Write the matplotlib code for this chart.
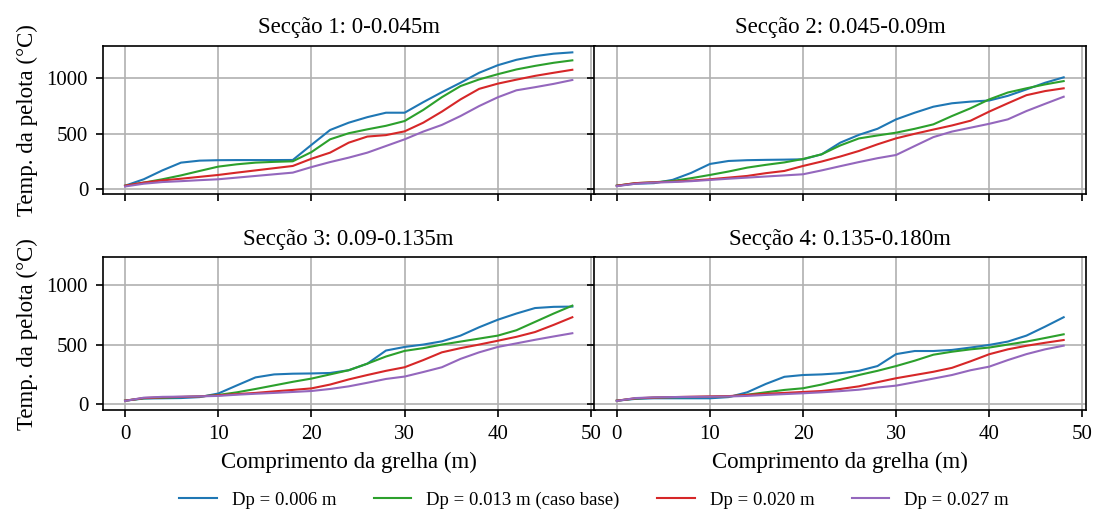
import matplotlib
matplotlib.use("Agg")
import matplotlib.pyplot as plt
import numpy as np

plt.rcParams['font.family'] = ['Liberation Serif', 'DejaVu Serif']
plt.rcParams['font.size'] = 10

# posições ao longo da grelha (m)
x = np.arange(0, 50, 2)

titles = ["Secção 1: 0-0.045m", "Secção 2: 0.045-0.09m",
          "Secção 3: 0.09-0.135m", "Secção 4: 0.135-0.180m"]
labels = ["Dp = 0.006 m", "Dp = 0.013 m (caso base)", "Dp = 0.020 m", "Dp = 0.027 m"]
colors = ["tab:blue", "tab:green", "tab:red", "tab:purple"]

# secção 1
s1_006 = [32, 90, 170, 240, 258, 262, 263, 263, 263, 264, 400, 534, 600, 650, 690, 690,
          785, 875, 960, 1050, 1118, 1167, 1200, 1222, 1234]
s1_013 = [32, 60, 90, 125, 165, 204, 225, 240, 247, 252, 335, 450, 505, 540, 572, 615,
          715, 830, 930, 990, 1037, 1080, 1112, 1140, 1162]
s1_020 = [32, 60, 80, 95, 112, 129, 150, 170, 190, 210, 275, 330, 420, 475, 488, 522,
          600, 700, 810, 905, 952, 988, 1022, 1050, 1077]
s1_027 = [25, 50, 65, 73, 82, 90, 105, 120, 135, 150, 200, 245, 285, 330, 390, 450,
          520, 580, 660, 750, 829, 892, 920, 950, 985]

# secção 2
s2_006 = [32, 50, 55, 85, 148, 228, 255, 262, 265, 267, 270, 315, 420, 490, 545, 630,
          690, 744, 775, 790, 800, 842, 900, 960, 1009]
s2_013 = [32, 55, 63, 75, 100, 129, 160, 195, 220, 242, 273, 315, 395, 458, 485, 510,
          545, 585, 660, 730, 810, 872, 910, 945, 975]
s2_020 = [32, 55, 63, 68, 78, 90, 105, 120, 145, 165, 210, 250, 295, 345, 405, 459,
          500, 538, 575, 618, 700, 775, 848, 885, 910]
s2_027 = [28, 50, 60, 65, 73, 84, 95, 105, 115, 125, 135, 170, 208, 245, 280, 309,
          390, 470, 520, 555, 590, 630, 705, 770, 834]

# secção 3
s3_006 = [30, 48, 50, 52, 60, 90, 158, 225, 250, 256, 258, 262, 285, 340, 450, 480,
          500, 527, 575, 645, 708, 760, 806, 816, 818]
s3_013 = [30, 50, 55, 60, 65, 78, 100, 128, 158, 188, 215, 250, 285, 340, 400, 447,
          470, 500, 525, 550, 575, 620, 690, 760, 826]
s3_020 = [30, 52, 58, 62, 66, 75, 85, 95, 108, 120, 133, 165, 208, 245, 280, 310,
          370, 435, 470, 500, 532, 565, 605, 665, 729]
s3_027 = [28, 55, 62, 64, 66, 70, 80, 88, 95, 103, 111, 128, 150, 180, 212, 232,
          270, 310, 380, 435, 480, 510, 540, 568, 595]

# secção 4
s4_006 = [30, 45, 50, 50, 50, 50, 60, 100, 170, 230, 245, 250, 260, 280, 320, 420,
          446, 446, 455, 475, 497, 525, 575, 650, 729]
s4_013 = [30, 48, 55, 58, 60, 62, 65, 80, 100, 120, 134, 165, 205, 245, 280, 320,
          365, 415, 440, 460, 475, 500, 525, 555, 586]
s4_020 = [30, 50, 56, 60, 63, 66, 68, 78, 88, 95, 103, 111, 128, 150, 185, 218,
          245, 272, 305, 360, 419, 460, 490, 515, 538]
s4_027 = [28, 52, 58, 60, 62, 63, 65, 70, 78, 85, 92, 100, 110, 122, 140, 156,
          185, 215, 245, 285, 315, 370, 420, 460, 491]

seccoes = [[s1_006, s1_013, s1_020, s1_027],
           [s2_006, s2_013, s2_020, s2_027],
           [s3_006, s3_013, s3_020, s3_027],
           [s4_006, s4_013, s4_020, s4_027]]

fig = plt.figure(figsize=(7.3, 3.4), dpi=150)
pos = [[0.0938, 0.6202, 0.4493, 0.2902],
       [0.5429, 0.6202, 0.4489, 0.2902],
       [0.0938, 0.1961, 0.4493, 0.2994],
       [0.5429, 0.1961, 0.4489, 0.2994]]
ylims = [(-40, 1294), (-40, 1294), (-48, 1231), (-48, 1231)]

for i in range(4):
    ax = fig.add_axes(pos[i])
    for serie, cor, lab in zip(seccoes[i], colors, labels):
        ax.plot(x, serie, color=cor, lw=1.0, label=lab)
    ax.set_title(titles[i], fontsize=11)
    ax.set_xlim(-2.4, 50.4)
    ax.set_ylim(ylims[i])
    ax.set_xticks([0, 10, 20, 30, 40, 50])
    ax.set_yticks([0, 500, 1000])
    ax.grid(True)
    if i < 2:
        ax.tick_params(labelbottom=False)
    else:
        ax.set_xlabel("Comprimento da grelha (m)", fontsize=11)
    if i % 2 == 1:
        ax.tick_params(labelleft=False)
    else:
        ax.set_ylabel("Temp. da pelota (°C)", fontsize=11)
    if i == 0:
        handles, labs = ax.get_legend_handles_labels()

fig.legend(handles, labs, loc='center', bbox_to_anchor=(594 / 1095, 1 - 500 / 510),
           ncol=4, frameon=False, fontsize=9)

fig.savefig("out.png", dpi=150)
